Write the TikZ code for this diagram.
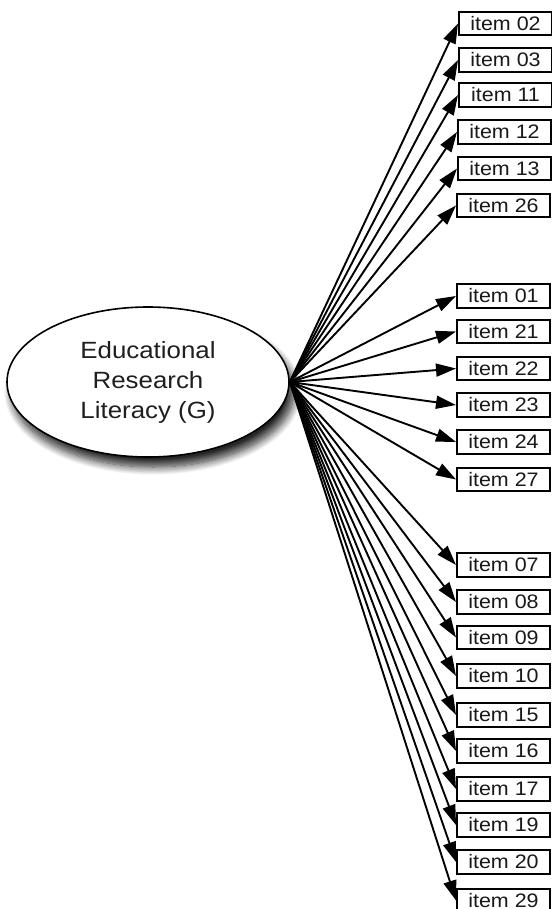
\documentclass[tikz,border=0pt]{standalone}
\usepackage{fontspec}
\setmainfont{Liberation Sans}
\newfontfamily\itemfont[FakeStretch=1.1]{Liberation Sans}
\newfontfamily\latfont[FakeStretch=1.1]{Liberation Sans}
\usetikzlibrary{arrows.meta,shapes.geometric,shadows.blur}
\begin{document}
\begin{tikzpicture}[x=1pt,y=-1pt,
  itembox/.style={draw=black,line width=2pt,fill=white,minimum width=93pt,minimum height=23.5pt,inner sep=0pt,anchor=west,
    font=\itemfont\fontsize{19.5}{21}\selectfont,text=black!90},
  latent/.style={ellipse,draw=black,line width=1.6pt,fill=white,minimum width=282pt,minimum height=150pt,inner sep=0pt,
    align=center,font=\latfont\fontsize{23.5}{30}\selectfont,text=black!88,
    blur shadow={shadow xshift=5pt,shadow yshift=-10pt,shadow blur radius=8pt,shadow blur steps=12,shadow opacity=85}},
  arr/.style={line width=1.9pt,-{Triangle[length=20pt,width=13pt]}}]
\useasboundingbox (0,0) rectangle (551,909);
\node[latent] (G) at (148,382) {Educational\\Research\\Literacy (G)};
\foreach \n/\y/\x in {02/23.5/458,03/60/458,11/95/458,12/132/457,13/168.5/457,26/205.5/456,
  01/296/456,21/331.5/456,22/368.5/456,23/405/456,24/442/456,27/479.5/456,
  07/565/456,08/602/456,09/637.5/456,10/676/456,15/715/456,16/751/456,17/789/456,19/825/456,20/862/456,29/900.5/456}{
  \node[itembox] (b\n) at (\x,\y) {item \n};
  \draw[arr] (G.east) -- (b\n.west);
}
\end{tikzpicture}
\end{document}
